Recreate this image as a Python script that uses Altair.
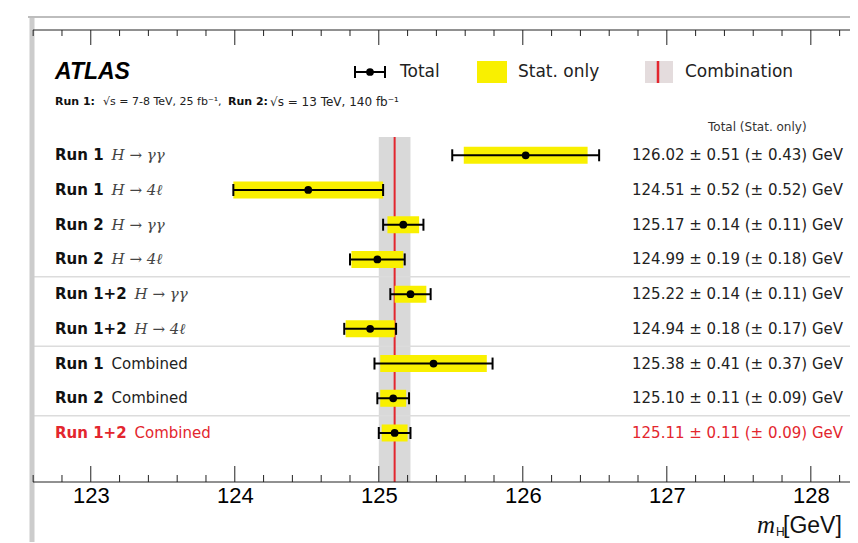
import altair as alt
import pandas as pd

# ---------------- data ----------------
runs = ["Run 1", "Run 1", "Run 2", "Run 2", "Run 1+2", "Run 1+2", "Run 1", "Run 2", "Run 1+2"]
channels = ["H → γγ", "H → 4ℓ", "H → γγ", "H → 4ℓ", "H → γγ", "H → 4ℓ",
            "Combined", "Combined", "Combined"]
mass = [126.02, 124.51, 125.17, 124.99, 125.22, 124.94, 125.38, 125.10, 125.11]
total_err = [0.51, 0.52, 0.14, 0.19, 0.14, 0.18, 0.41, 0.11, 0.11]
stat_err = [0.43, 0.52, 0.11, 0.18, 0.11, 0.17, 0.37, 0.09, 0.09]
combo_mass = 125.11
combo_err = 0.11
major_ticks = [123, 124, 125, 126, 127, 128]
minor_ticks = [122.6, 122.8, 123.2, 123.4, 123.6, 123.8, 124.2, 124.4, 124.6, 124.8,
               125.2, 125.4, 125.6, 125.8, 126.2, 126.4, 126.6, 126.8, 127.2, 127.4,
               127.6, 127.8, 128.2]
group_breaks = [4.5, 6.5, 8.5]

RED = "#e3262e"
YELLOW = "#f9f000"
W, H = 820, 452

# ---------------- derived table ----------------
bold_w = {"R": 0.770, "u": 0.712, "n": 0.712, " ": 0.348, "1": 0.696, "2": 0.696, "+": 0.838}


def run_width(s, size=15):
    return sum(bold_w.get(c, 0.65) for c in s) * size


df = pd.DataFrame({
    "row": list(range(1, len(mass) + 1)),
    "run": runs,
    "channel": channels,
    "m": mass,
    "lo_t": [m - t for m, t in zip(mass, total_err)],
    "hi_t": [m + t for m, t in zip(mass, total_err)],
    "lo_s": [m - s for m, s in zip(mass, stat_err)],
    "hi_s": [m + s for m, s in zip(mass, stat_err)],
    "value_text": [f"{m:.2f} ± {t:.2f} (± {s:.2f}) GeV" for m, t, s in zip(mass, total_err, stat_err)],
})
df["chan_x"] = [25 + run_width(r) + 8 for r in runs]
df["is_math"] = [c != "Combined" for c in channels]

xscale = alt.Scale(domain=[122.578, 128.272], nice=False, zero=False)
yscale = alt.Scale(domain=[-2.465, 10.268], reverse=True, nice=False, zero=False)
xax = alt.Axis(values=major_ticks, format="d", ticks=False, domain=False, grid=False,
               labelFont="Liberation Sans", labelFontSize=22, labelColor="#000",
               labelPadding=3, title=None)


def X(field):
    return alt.X(field, type="quantitative", scale=xscale, axis=xax)


def Y(field):
    return alt.Y(field, type="quantitative", scale=yscale, axis=None)


base = alt.Chart(df)
one = alt.Data(values=[{"a": 1}])
highlight = (alt.datum.run == "Run 1+2") & (alt.datum.channel == "Combined")

# combination band and line
band = alt.Chart(pd.DataFrame({"lo": [combo_mass - combo_err], "hi": [combo_mass + combo_err]})).mark_rect(
    color="#d9d9d9").encode(x=X("lo"), x2="hi", y=alt.value(107), y2=alt.value(H))
combo_line = alt.Chart(pd.DataFrame({"c": [combo_mass]})).mark_rule(color=RED, strokeWidth=2).encode(
    x=X("c"), y=alt.value(107), y2=alt.value(H))

seps = alt.Chart(pd.DataFrame({"b": group_breaks})).mark_rule(color="#dcdcdc", strokeWidth=1.5).encode(
    y=Y("b"), x=alt.value(3), x2=alt.value(W))

stat_bars = base.mark_bar(size=17, color=YELLOW, orient="horizontal").encode(x=X("lo_s"), x2="hi_s", y=Y("row"))
tot_rule = base.mark_rule(color="black", strokeWidth=2).encode(x=X("lo_t"), x2="hi_t", y=Y("row"))
caps = base.transform_fold(["lo_t", "hi_t"], as_=["end", "xv"]).mark_tick(
    orient="vertical", size=12, thickness=2, color="black", opacity=1).encode(x=X("xv"), y=Y("row"))
dots = base.mark_circle(size=60, color="black", opacity=1).encode(x=X("m"), y=Y("row"))

run_text = base.mark_text(align="left", baseline="middle", font="DejaVu Sans", fontWeight="bold",
                          fontSize=15).encode(
    x=alt.value(25), y=Y("row"), text="run:N",
    color=alt.condition(highlight, alt.value(RED), alt.value("#111")))
chan_math = base.transform_filter(alt.datum.is_math).mark_text(
    align="left", baseline="middle", font="DejaVu Serif", fontStyle="italic", fontSize=15).encode(
    x=alt.X("chan_x:Q", scale=None), y=Y("row"), text="channel:N", color=alt.value("#444"))
chan_comb = base.transform_filter(~alt.datum.is_math).mark_text(
    align="left", baseline="middle", font="DejaVu Sans", fontSize=15).encode(
    x=alt.X("chan_x:Q", scale=None), y=Y("row"), text="channel:N",
    color=alt.condition(highlight, alt.value(RED), alt.value("#222")))
val_text = base.mark_text(align="left", baseline="middle", font="DejaVu Sans", fontSize=15).encode(
    x=alt.value(602), y=Y("row"), text="value_text:N",
    color=alt.condition(highlight, alt.value(RED), alt.value("#222")))

# axis frame and inward ticks
frame_left = alt.Chart(one).mark_rule(color="#cccccc", strokeWidth=5).encode(
    x=alt.value(2), y=alt.value(-13), y2=alt.value(H + 61))
frame_top = alt.Chart(one).mark_rule(color="#bdbdbd", strokeWidth=2).encode(
    x=alt.value(-2), x2=alt.value(W), y=alt.value(-13))
axis_top = alt.Chart(one).mark_rule(color="#222", strokeWidth=1).encode(
    x=alt.value(3), x2=alt.value(W), y=alt.value(0))
axis_bot = alt.Chart(one).mark_rule(color="#222", strokeWidth=1).encode(
    x=alt.value(3), x2=alt.value(W), y=alt.value(H))
maj = pd.DataFrame({"t": major_ticks})
mnr = pd.DataFrame({"t": minor_ticks})
tick_layers = [
    alt.Chart(maj).mark_rule(color="#222").encode(x=X("t"), y=alt.value(0), y2=alt.value(15)),
    alt.Chart(mnr).mark_rule(color="#222").encode(x=X("t"), y=alt.value(0), y2=alt.value(6)),
    alt.Chart(maj).mark_rule(color="#222").encode(x=X("t"), y=alt.value(H - 16), y2=alt.value(H)),
    alt.Chart(mnr).mark_rule(color="#222").encode(x=X("t"), y=alt.value(H - 7), y2=alt.value(H)),
]


def txt(text, x, y, size, weight="normal", font="DejaVu Sans", color="#222", style="normal",
        baseline="middle"):
    return alt.Chart(one).mark_text(text=text, align="left", baseline=baseline, font=font,
                                    fontWeight=weight, fontStyle=style, fontSize=size,
                                    color=color).encode(x=alt.value(x), y=alt.value(y))


# custom legend / annotations
ly = 42
legend = [
    txt("ATLAS", 25, ly, 23, weight="bold", font="Liberation Sans", color="black", style="italic"),
    alt.Chart(one).mark_rule(color="black", strokeWidth=2).encode(x=alt.value(325), x2=alt.value(355), y=alt.value(ly)),
    alt.Chart(one).mark_rule(color="black", strokeWidth=2).encode(x=alt.value(325), y=alt.value(ly - 6), y2=alt.value(ly + 6)),
    alt.Chart(one).mark_rule(color="black", strokeWidth=2).encode(x=alt.value(355), y=alt.value(ly - 6), y2=alt.value(ly + 6)),
    alt.Chart(one).mark_circle(size=60, color="black", opacity=1).encode(x=alt.value(340), y=alt.value(ly)),
    txt("Total", 370, ly, 17),
    alt.Chart(one).mark_rect(color=YELLOW).encode(x=alt.value(447), x2=alt.value(477),
                                                  y=alt.value(ly - 11), y2=alt.value(ly + 11)),
    txt("Stat. only", 488, ly, 17),
    alt.Chart(one).mark_rect(color="#e4dcdd").encode(x=alt.value(615), x2=alt.value(643),
                                                    y=alt.value(ly - 11), y2=alt.value(ly + 11)),
    alt.Chart(one).mark_rule(color=RED, strokeWidth=2.5).encode(x=alt.value(628), y=alt.value(ly - 11),
                                                                y2=alt.value(ly + 11)),
    txt("Combination", 655, ly, 17),
    txt("Run 1:", 25, 72, 11, weight="bold", color="#111"),
    txt("√s = 7-8 TeV, 25 fb⁻¹,", 73, 72, 11),
    txt("Run 2:", 198, 72, 11, weight="bold", color="#111"),
    txt("√s = 13 TeV, 140 fb⁻¹", 240, 72, 12),
    txt("Total  (Stat. only)", 678, 97, 12, color="#333"),
    # axis title
    txt("m", 727, 503, 25, font="Liberation Serif", color="#111", style="italic", baseline="alphabetic"),
    txt("H", 746, 506, 12, font="Liberation Sans", color="#111", baseline="alphabetic"),
    txt("[GeV]", 753, 503, 23, font="Liberation Sans", color="#111", baseline="alphabetic"),
]

chart = alt.layer(
    band, seps, combo_line, stat_bars, tot_rule, caps, dots,
    run_text, chan_math, chan_comb, val_text,
    frame_left, frame_top, axis_top, axis_bot, *tick_layers, *legend,
).properties(
    width=W, height=H,
    autosize=alt.AutoSizeParams(type="none"),
    padding={"left": 22, "top": 22, "right": 0, "bottom": 60},
    background="white",
).configure_view(stroke="transparent")

chart.save("out.html", embed_options={"renderer": "svg", "actions": False})
